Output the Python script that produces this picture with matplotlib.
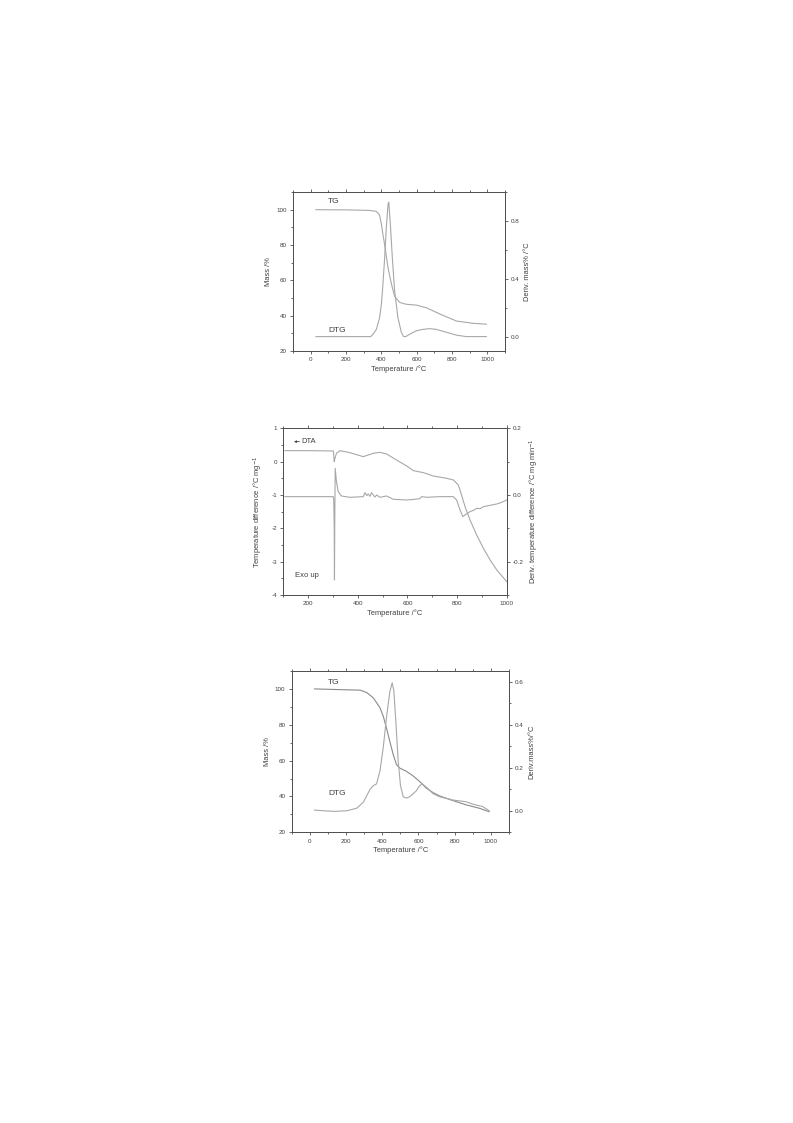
import numpy as np
import matplotlib.pyplot as plt
from matplotlib.ticker import MultipleLocator

plt.rcParams['font.family'] = ['Liberation Sans', 'DejaVu Sans']
plt.rcParams['axes.unicode_minus'] = False

# ---- panel 1: TG / DTG ----
tg1_t = [30, 200, 334, 372, 390, 400, 409, 419, 438, 457, 475, 504, 540, 598, 655, 730, 825, 919, 994]
tg1_m = [100, 99.9, 99.6, 99, 97, 92, 86, 80, 67, 58, 51, 47.5, 46.5, 46, 44.5, 41, 37, 35.7, 35.2]
dtg1_t = [30, 200, 340, 353, 372, 390, 400, 409, 419, 428, 438, 442, 451, 462, 475, 494, 513, 526,
          538, 560, 598, 636, 674, 711, 768, 825, 881, 994]
dtg1_v = [0, 0, 0, 0.016, 0.05, 0.13, 0.22, 0.36, 0.55, 0.75, 0.915, 0.93, 0.78, 0.55, 0.32, 0.13,
          0.03, 0.0, 0.0, 0.016, 0.04, 0.05, 0.055, 0.05, 0.03, 0.01, 0.0, 0.0]

# ---- panel 2: DTA / derivative ----
dta_t = [106, 200, 301, 303, 305, 308, 314, 328, 368, 422, 462, 489, 516, 556, 597, 624, 664, 704,
         758, 785, 805, 818, 832, 852, 879, 906, 933, 960, 1000]
dta_v = [0.33, 0.33, 0.32, 0.2, 0.0, 0.1, 0.25, 0.33, 0.27, 0.15, 0.25, 0.28, 0.23, 0.05, -0.13,
         -0.27, -0.33, -0.43, -0.50, -0.55, -0.70, -1.0, -1.35, -1.75, -2.2, -2.6, -2.95, -3.25, -3.6]
ddta_t = [106, 200, 301, 303, 305, 306, 307, 309, 314, 321, 334, 368, 422, 429, 436, 442, 449, 455,
          462, 469, 476, 489, 516, 543, 597, 630, 650, 657, 677, 731, 785, 798, 812, 823, 832, 852,
          866, 879, 893, 906, 920, 940, 960, 980, 1000]
ddta_v = [-0.005, -0.005, -0.005, -0.015, -0.1, -0.255, -0.1, 0.08, 0.04, 0.01, -0.003, -0.007,
          -0.005, 0.007, -0.002, 0.003, -0.004, 0.007, 0.0, -0.006, -0.0, -0.007, -0.003, -0.013,
          -0.015, -0.013, -0.011, -0.005, -0.007, -0.005, -0.005, -0.015, -0.045, -0.065, -0.06,
          -0.05, -0.046, -0.04, -0.041, -0.035, -0.033, -0.03, -0.027, -0.022, -0.015]

# ---- panel 3: TG / DTG ----
tg3_t = [26, 168, 278, 314, 351, 388, 406, 424, 442, 461, 479, 497, 534, 570, 607, 644, 680, 717,
         790, 863, 936, 990]
tg3_m = [100, 99.6, 99.3, 98, 95, 89.4, 84.7, 78, 70.7, 63.3, 57.7, 55.8, 54, 51.5, 48.3, 44.6,
         42.2, 40.3, 37.7, 35.3, 33.4, 31.5]
dtg3_t = [26, 77, 132, 205, 260, 296, 333, 351, 369, 388, 406, 424, 442, 455, 464, 475, 488, 501,
          516, 534, 552, 589, 600, 620, 644, 680, 717, 790, 863, 899, 936, 954, 991]
dtg3_v = [0.003, 0.0, -0.003, 0.0, 0.012, 0.04, 0.1, 0.117, 0.125, 0.187, 0.296, 0.436, 0.553,
          0.595, 0.56, 0.42, 0.234, 0.117, 0.065, 0.059, 0.065, 0.093, 0.11, 0.125, 0.11, 0.08,
          0.065, 0.05, 0.042, 0.031, 0.023, 0.02, 0.0]

c_light = '#a8a8a8'
c_dark = '#8a8a8a'
c_ax = '#505050'
c_txt = '#404040'
fs_tick = 4.5
fs_lab = 5.4


def style(ax, twin):
    for a in (ax, twin):
        for s in a.spines.values():
            s.set_color(c_ax)
            s.set_linewidth(0.7)
    ax.tick_params(which='both', direction='out', colors=c_ax, labelsize=fs_tick, width=0.6,
                   labelcolor=c_txt, pad=2)
    ax.tick_params(which='major', length=2.5)
    ax.tick_params(which='minor', length=1.5)
    ax.tick_params(axis='x', which='both', top=True, labeltop=False)
    twin.tick_params(which='both', direction='out', colors=c_ax, labelsize=fs_tick, width=0.6,
                     labelcolor=c_txt, pad=2)
    twin.tick_params(which='major', length=2.5)
    twin.tick_params(which='minor', length=1.5)


fig = plt.figure(figsize=(7.93, 11.23), dpi=100)

# panel 1
ax1 = fig.add_axes([0.3695, 0.6874, 0.2673, 0.1416])
ax1b = ax1.twinx()
ax1.plot(tg1_t, tg1_m, color=c_light, lw=0.8)
ax1b.plot(dtg1_t, dtg1_v, color=c_light, lw=0.8)
ax1.set_xlim(-100, 1100)
ax1.set_ylim(20, 110)
ax1b.set_ylim(-0.1, 1.0)
ax1.xaxis.set_major_locator(MultipleLocator(200))
ax1.xaxis.set_minor_locator(MultipleLocator(100))
ax1.yaxis.set_major_locator(MultipleLocator(20))
ax1.yaxis.set_minor_locator(MultipleLocator(10))
ax1b.yaxis.set_major_locator(MultipleLocator(0.4))
ax1b.yaxis.set_minor_locator(MultipleLocator(0.2))
ax1b.yaxis.set_major_formatter(lambda v, p: f'{v:.1f}')
style(ax1, ax1b)
ax1.set_xlabel('Temperature /°C', fontsize=fs_lab, color=c_txt, labelpad=2)
ax1.set_ylabel('Mass /%', fontsize=fs_lab, color=c_txt, labelpad=3)
ax1b.set_ylabel('Deriv. mass% /°C', fontsize=fs_lab, color=c_txt, labelpad=3)
ax1.text(100, 104, 'TG', fontsize=6, color=c_txt)
ax1.text(100, 31, 'DTG', fontsize=6, color=c_txt)

# panel 2
ax2 = fig.add_axes([0.3573, 0.4702, 0.2817, 0.1484])
ax2b = ax2.twinx()
ax2.plot(dta_t, dta_v, color=c_light, lw=0.8)
ax2b.plot(ddta_t, ddta_v, color=c_light, lw=0.8)
ax2.set_xlim(100, 1000)
ax2.set_ylim(-4, 1)
ax2b.set_ylim(-0.3, 0.2)
ax2.xaxis.set_major_locator(MultipleLocator(200))
ax2.xaxis.set_minor_locator(MultipleLocator(100))
ax2.yaxis.set_major_locator(MultipleLocator(1))
ax2.yaxis.set_minor_locator(MultipleLocator(0.5))
ax2.yaxis.set_major_formatter(lambda v, p: f'{v:.0f}')
ax2b.yaxis.set_major_locator(MultipleLocator(0.2))
ax2b.yaxis.set_minor_locator(MultipleLocator(0.1))
ax2b.yaxis.set_major_formatter(lambda v, p: f'{v:.1f}')
style(ax2, ax2b)
ax2.set_xlabel('Temperature /°C', fontsize=fs_lab, color=c_txt, labelpad=2)
ax2.set_ylabel('Temperature difference /°C mg$^{-1}$', fontsize=fs_lab, color=c_txt, labelpad=5)
ax2b.set_ylabel('Deriv. temperature difference /°C mg min$^{-1}$', fontsize=fs_lab,
                color=c_txt, labelpad=3)
ax2.annotate('', xy=(143, 0.6), xytext=(165, 0.6),
             arrowprops=dict(arrowstyle='-|>', color=c_txt, lw=0.6, mutation_scale=3,
                             shrinkA=0, shrinkB=0))
ax2.text(172, 0.6, 'DTA', fontsize=5.5, color=c_txt, va='center')
ax2.text(148, -3.45, 'Exo up', fontsize=5.5, color=c_txt)

# panel 3
ax3 = fig.add_axes([0.3678, 0.2589, 0.2740, 0.1436])
ax3b = ax3.twinx()
ax3.plot(tg3_t, tg3_m, color=c_dark, lw=0.8)
ax3b.plot(dtg3_t, dtg3_v, color=c_light, lw=0.8)
ax3.set_xlim(-100, 1100)
ax3.set_ylim(20, 110)
ax3b.set_ylim(-0.1, 0.65)
ax3.xaxis.set_major_locator(MultipleLocator(200))
ax3.xaxis.set_minor_locator(MultipleLocator(100))
ax3.yaxis.set_major_locator(MultipleLocator(20))
ax3.yaxis.set_minor_locator(MultipleLocator(10))
ax3b.yaxis.set_major_locator(MultipleLocator(0.2))
ax3b.yaxis.set_minor_locator(MultipleLocator(0.1))
ax3b.yaxis.set_major_formatter(lambda v, p: f'{v:.1f}')
style(ax3, ax3b)
ax3.set_xlabel('Temperature /°C', fontsize=fs_lab, color=c_txt, labelpad=2)
ax3.set_ylabel('Mass /%', fontsize=fs_lab, color=c_txt, labelpad=3)
ax3b.set_ylabel('Deriv.mass%/°C', fontsize=fs_lab, color=c_txt, labelpad=3)
ax3.text(100, 103, 'TG', fontsize=6, color=c_txt)
ax3.text(100, 41, 'DTG', fontsize=6, color=c_txt)

fig.savefig('out.png', dpi=100)
